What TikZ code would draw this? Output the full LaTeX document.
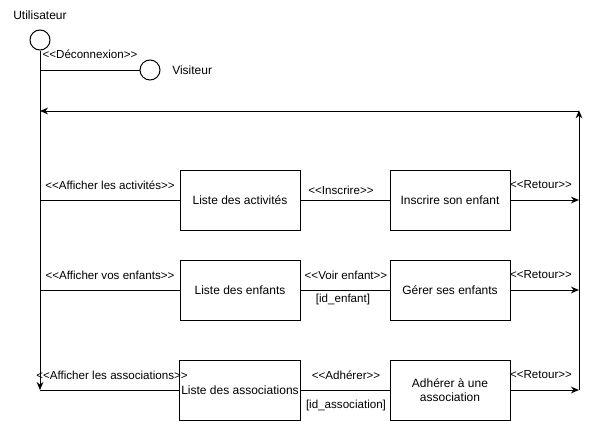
\documentclass[tikz,border=0pt]{standalone}
\usepackage{fontspec}
\setmainfont{Liberation Sans}
\usetikzlibrary{arrows.meta}

\tikzset{
  boite/.style={draw, line width=0.75pt, minimum width=90pt, minimum height=45pt, inner sep=1pt, align=center, font=\fontsize{9}{11}\selectfont},
  acteur/.style={draw, circle, line width=0.75pt, minimum size=15pt, inner sep=0pt},
  etiq/.style={inner sep=0.75pt, font=\fontsize{8.7}{10}\selectfont},
  fleche/.style={line width=0.75pt, -{Stealth[length=6pt,width=5pt]}},
}

\begin{document}
\begin{tikzpicture}[x=0.75pt,y=0.75pt,yscale=-1,xscale=1]
\useasboundingbox (0,0) rectangle (589,421);

%Actors
\node[acteur] (util) at (40,40) {};
\node[acteur] (visit) at (150,70) {};
\node[etiq, font=\fontsize{9}{11}\selectfont] (lutil) at (40,15) {Utilisateur};
\node[etiq, font=\fontsize{9}{11}\selectfont, anchor=west] (lvisit) at (171,70) {Visiteur};

%Boxes
\node[boite] (lact) at (240,200) {Liste des activités};
\node[boite] (insc) at (450,200) {Inscrire son enfant};
\node[boite] (lenf) at (240,290) {Liste des enfants};
\node[boite] (gere) at (450,290) {Gérer ses enfants};
\node[boite] (lass) at (240,390) {Liste des associations};
\node[boite] (adhe) at (450,390) {Adhérer à une\\association};

%Junctions
\coordinate (u70) at (40,70);
\coordinate (u111) at (40,111);
\coordinate (u200) at (40,200);
\coordinate (u290) at (40,290);
\coordinate (u390) at (40,390);
\coordinate (r111) at (579,111);
\coordinate (r200) at (579,200);
\coordinate (r290) at (579,290);
\coordinate (r390) at (579,390);

%Lifeline
\draw[fleche] (util.south) -- (u390);
\draw[line width=0.75pt] (u70) -- (visit.west);
\draw[fleche] (r111) -- (u111);
\draw[fleche] (r390) -- ([yshift=-0.5pt]r111);

%Rows
\draw[line width=0.75pt] (u200) -- (lact.west);
\draw[line width=0.75pt] (lact.east) -- (insc.west);
\draw[fleche] (insc.east) -- (r200);
\draw[line width=0.75pt] (u290) -- (lenf.west);
\draw[line width=0.75pt] (lenf.east) -- (gere.west);
\draw[fleche] (gere.east) -- (r290);
\draw[line width=0.75pt] (lass.west) -- (u390);
\draw[line width=0.75pt] (lass.east) -- (adhe.west);
\draw[fleche] (adhe.east) -- (r390);

%Labels
\node[etiq] (tdec) at (90,54) {<{}<Déconnexion>{}>};
\node[etiq] (taact) at (110,185) {<{}<Afficher les activités>{}>};
\node[etiq] (tinsc) at (341,190) {<{}<Inscrire>{}>};
\node[etiq] (tret1) at (541,185) {<{}<Retour>{}>};
\node[etiq] (taenf) at (110,275) {<{}<Afficher vos enfants>{}>};
\node[etiq] (tvoir) at (346,275) {<{}<Voir enfant>{}>};
\node[etiq] (tiden) at (343,299) {[id\_enfant]};
\node[etiq] (tret2) at (541,275) {<{}<Retour>{}>};
\node[etiq] (taass) at (112,375) {<{}<Afficher les associations>{}>};
\node[etiq] (tadhe) at (346,375) {<{}<Adhérer>{}>};
\node[etiq] (tidas) at (346,405) {[id\_association]};
\node[etiq] (tret3) at (541,375) {<{}<Retour>{}>};

\end{tikzpicture}
\end{document}
